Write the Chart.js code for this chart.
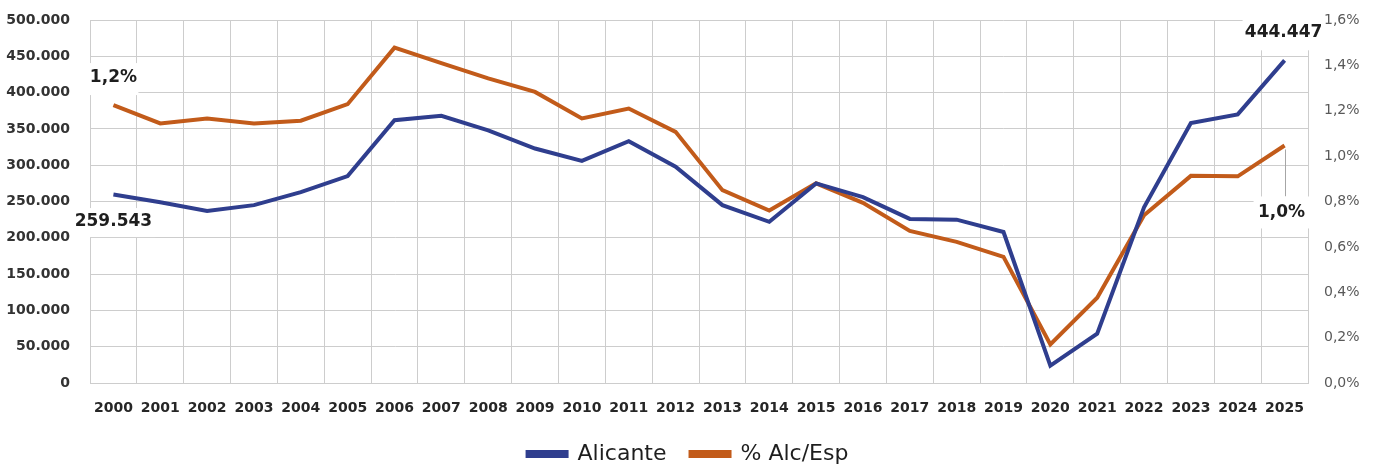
<!DOCTYPE html>
<html><head><meta charset="utf-8">
<script src="https://cdn.jsdelivr.net/npm/chart.js@4"></script>
<style>html,body{margin:0;padding:0;background:#fff}#wrap{width:1376px;height:464px;position:relative}</style>
</head><body><div id="wrap"><canvas id="c" width="1376" height="464"></canvas></div>
<script>
const years = ['2000','2001','2002','2003','2004','2005','2006','2007','2008','2009','2010','2011','2012','2013','2014','2015','2016','2017','2018','2019','2020','2021','2022','2023','2024','2025'];
const alicante = [259543, 249000, 237000, 245000, 263000, 285000, 362000, 368000, 348000, 323000, 306000, 333000, 298000, 245000, 222000, 275000, 256000, 226000, 225000, 208000, 24000, 68000, 242000, 358000, 370000, 444447];
const pctAlcEsp = [1.225, 1.144, 1.166, 1.144, 1.156, 1.229, 1.478, 1.410, 1.343, 1.283, 1.166, 1.210, 1.107, 0.850, 0.760, 0.880, 0.794, 0.670, 0.622, 0.556, 0.170, 0.376, 0.739, 0.913, 0.911, 1.047];
const seriesNames = ['Alicante', '% Alc/Esp'];
const leftAxis = {min: 0, max: 500000, step: 50000};
const rightAxis = {min: 0, max: 1.6, step: 0.2};

const fmtThousands = v => String(Math.round(v)).replace(/\B(?=(\d{3})+(?!\d))/g, '.');
const fmtPct = v => v.toFixed(1).replace('.', ',') + '%';

const BLUE = '#2F3E8E', ORANGE = '#C25B1A', GRID = '#cdcdcd';
const FONT = '"DejaVu Sans", sans-serif';

const endLabels = {
  id: 'endLabels',
  afterDatasetsDraw(chart) {
    const ctx = chart.ctx, xs = chart.scales.x, yl = chart.scales.y, yr = chart.scales.y1;
    const last = years.length - 1;
    const items = [
      {px: xs.getPixelForValue(0), py: yl.getPixelForValue(alicante[0]), text: fmtThousands(alicante[0]), dx: 0, dy: 27, bw: 84, bh: 29, bdy: 1},
      {px: xs.getPixelForValue(0), py: yr.getPixelForValue(pctAlcEsp[0]), text: fmtPct(pctAlcEsp[0]), dx: 0, dy: -28, bw: 50, bh: 32, bdy: 2},
      {px: xs.getPixelForValue(last), py: yl.getPixelForValue(alicante[last]), text: fmtThousands(alicante[last]), dx: -1, dy: -28, bw: 82, bh: 36, bdy: 0},
      {px: xs.getPixelForValue(last), py: yr.getPixelForValue(pctAlcEsp[last]), text: fmtPct(pctAlcEsp[last]), dx: -3, dy: 67, bw: 56, bh: 32, bdy: 0, leader: true}
    ];
    ctx.save();
    ctx.font = 'bold 17px ' + FONT;
    ctx.textAlign = 'center';
    ctx.textBaseline = 'middle';
    items.forEach(it => {
      const cx = it.px + it.dx, cy = it.py + it.dy;
      if (it.leader) {
        ctx.strokeStyle = '#a6a6a6';
        ctx.lineWidth = 1;
        ctx.beginPath();
        ctx.moveTo(Math.round(it.px) + 0.5, it.py + 4);
        ctx.lineTo(Math.round(it.px) + 0.5, cy - it.bh / 2);
        ctx.stroke();
      }
      ctx.fillStyle = '#ffffff';
      ctx.fillRect(cx - it.bw / 2, cy - it.bh / 2 + it.bdy, it.bw, it.bh);
      ctx.fillStyle = '#1e1e1e';
      ctx.fillText(it.text, cx, cy);
    });
    ctx.restore();
  }
};

const noPadV = s => { s.paddingTop = 0; s.paddingBottom = 0; };

new Chart(document.getElementById('c'), {
  type: 'line',
  data: {
    labels: years,
    datasets: [
      {label: seriesNames[0], data: alicante, yAxisID: 'y', borderColor: BLUE, backgroundColor: BLUE, borderWidth: 4, pointRadius: 0, tension: 0},
      {label: seriesNames[1], data: pctAlcEsp, yAxisID: 'y1', borderColor: ORANGE, backgroundColor: ORANGE, borderWidth: 4, pointRadius: 0, tension: 0}
    ]
  },
  options: {
    responsive: false,
    animation: false,
    devicePixelRatio: 1,
    layout: {padding: {top: 20, left: 0, right: 0, bottom: -11}},
    plugins: {
      legend: {
        position: 'bottom',
        labels: {
          boxWidth: 39, boxHeight: 4, padding: 24,
          color: '#1e1e1e',
          font: {family: FONT, size: 22}
        }
      },
      tooltip: {enabled: false}
    },
    scales: {
      x: {
        offset: true,
        grid: {color: GRID, lineWidth: 1, drawTicks: false, offset: true},
        border: {color: GRID},
        ticks: {color: '#262626', font: {family: FONT, size: 14, weight: 'bold'}, padding: 17, maxRotation: 0, autoSkip: false},
        afterFit(s) { s.height = 36; s.paddingLeft = 0; s.paddingRight = 0; }
      },
      y: {
        position: 'left',
        min: leftAxis.min, max: leftAxis.max,
        grid: {color: GRID, lineWidth: 1, drawTicks: false},
        border: {color: GRID},
        ticks: {stepSize: leftAxis.step, color: '#333333', font: {family: FONT, size: 14, weight: 'bold'}, padding: 20, callback: v => fmtThousands(v)},
        afterFit(s) { s.width = 90; noPadV(s); }
      },
      y1: {
        position: 'right',
        min: rightAxis.min, max: rightAxis.max,
        grid: {drawOnChartArea: false, drawTicks: false},
        border: {display: false},
        ticks: {stepSize: rightAxis.step, color: '#595959', font: {family: FONT, size: 14}, padding: 16, callback: v => fmtPct(v)},
        afterFit(s) { s.width = 68; noPadV(s); }
      }
    }
  },
  plugins: [endLabels]
});
</script>
</body></html>
